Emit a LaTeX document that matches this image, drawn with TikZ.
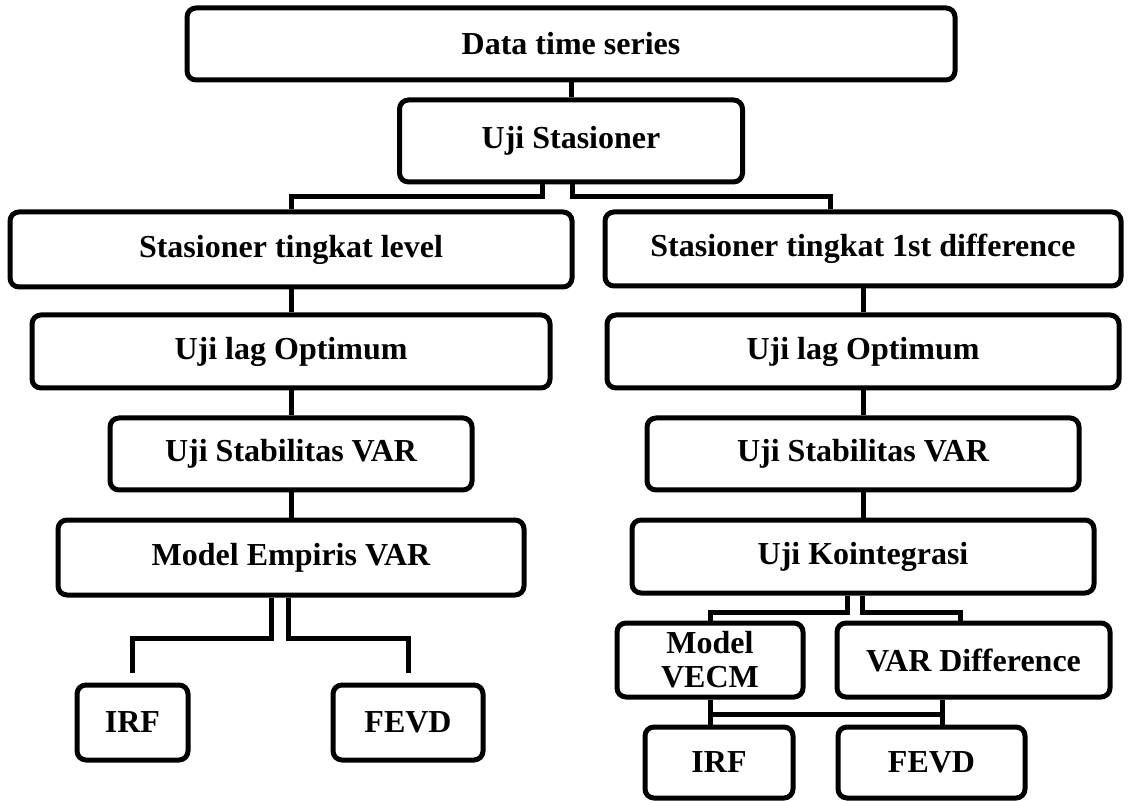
\documentclass[tikz,border=0pt]{standalone}
\usepackage{fontspec}
\setmainfont{Liberation Serif}
\usepackage{tikz}

\begin{document}
\begin{tikzpicture}[x=0.5pt,y=-0.5pt,
    box/.style={draw, line width=2.5pt, rounded corners=4.5pt, inner sep=0pt, align=center,
        font=\bfseries\fontsize{16}{17}\selectfont},
    boxsize/.style 2 args={minimum width=#1*0.5pt, minimum height=#2*0.5pt},
    link/.style={line width=2.5pt}]
    \useasboundingbox (0,0) rectangle (1134,801);

    \node[box, boxsize={768}{72}]  (data)    at (571,44)    {Data time series};
    \node[box, boxsize={343}{82}]  (stas)    at (571,141)   {Uji Stasioner};

    \node[box, boxsize={562}{75}]  (lvl)     at (291,249.5) {Stasioner tingkat level};
    \node[box, boxsize={518}{73}]  (lagL)    at (291,351.5) {Uji lag Optimum};
    \node[box, boxsize={362}{72}]  (stabL)   at (291,454)   {Uji Stabilitas VAR};
    \node[box, boxsize={466}{75}]  (emp)     at (291,557.5) {Model Empiris VAR};
    \node[box, boxsize={111}{75}]  (irfL)    at (132.5,722.5) {IRF};
    \node[box, boxsize={150}{75}]  (fevdL)   at (408,722.5) {FEVD};

    \node[box, boxsize={516}{74}]  (diff)    at (863,249)   {Stasioner tingkat 1st difference};
    \node[box, boxsize={512}{73}]  (lagR)    at (863,351.5) {Uji lag Optimum};
    \node[box, boxsize={432}{72}]  (stabR)   at (863,454)   {Uji Stabilitas VAR};
    \node[box, boxsize={462}{73}]  (koint)   at (863,556.5) {Uji Kointegrasi};
    \node[box, boxsize={186}{74}]  (vecm)    at (710,660)   {Model\\VECM};
    \node[box, boxsize={273}{74}]  (vardiff) at (973.5,660) {VAR Difference};
    \node[box, boxsize={148}{71}]  (irfR)    at (719,762.5) {IRF};
    \node[box, boxsize={187}{71}]  (fevdR)   at (931.5,762.5) {FEVD};

    \draw[link] (data.south) -- (stas.north);
    \draw[link] ([xshift=-14.5pt]stas.south) -- ++(0,12) -| (lvl.north);
    \draw[link] ([xshift=0.5pt]stas.south) -- ++(0,12) -| ([xshift=-16.5pt]diff.north);

    \draw[link] (lvl.south) -- (lagL.north);
    \draw[link] (lagL.south) -- (stabL.north);
    \draw[link] (stabL.south) -- (emp.north);
    \draw[link, shorten >=5pt] ([xshift=-10pt]emp.south) -- ++(0,41) -| (irfL.north);
    \draw[link, shorten >=5pt] ([xshift=-1.5pt]emp.south) -- ++(0,41) -| (fevdL.north);

    \draw[link] (diff.south) -- (lagR.north);
    \draw[link] (lagR.south) -- (stabR.north);
    \draw[link] (stabR.south) -- (koint.north);
    \draw[link] ([xshift=-8pt]koint.south) -- ++(0,17) -| (vecm.north);
    \draw[link] ([xshift=-0.5pt]koint.south) -- ++(0,17) -| ([xshift=-6.75pt]vardiff.north);

    \draw[link] (vecm.south) -- (vecm.south |- irfR.north);
    \draw[link] ([xshift=-15.75pt]vardiff.south) coordinate (vdrop) -- (vdrop |- fevdR.north);
    \draw[link] ([yshift=-7.5pt]vecm.south) coordinate (bus) -- (bus -| vdrop);
\end{tikzpicture}
\end{document}
